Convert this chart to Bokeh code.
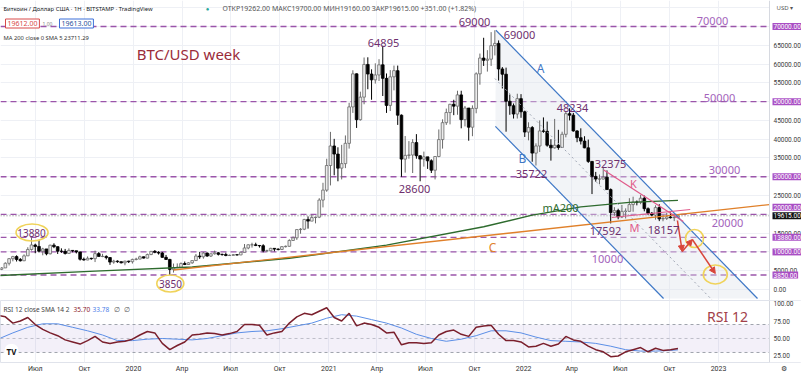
import pandas as pd
from bokeh.plotting import figure
from bokeh.layouts import column
from bokeh.models import (Range1d, FixedTicker, Label, Span, Arrow, NormalHead,
                          BoxAnnotation, ColumnDataSource)
from bokeh.embed import file_html
from bokeh.resources import INLINE

# ---------------- data ----------------
week_start = "2019-04-22"
first_open = 5270
close = [5380, 5750, 6980, 8200, 8750, 8000, 7650, 8950, 10650, 11850,
         11450, 10200, 10800, 9500, 11800, 11400, 10200, 10150, 9600, 10400,
         10300, 10000, 8050, 7850, 8300, 8200, 9550, 8800, 8800, 8500,
         7300, 7550, 7400, 7100, 7550, 7400, 8000, 8100, 8700, 8350,
         9300, 10150, 9900, 9700, 8550, 8000, 5350, 5800, 5900, 6900,
         6650, 7100, 7700, 8900, 8700, 9700, 8900, 9500, 9750, 9350,
         9300, 9050, 9100, 9250, 9200, 9900, 11050, 11900, 11900, 11700,
         11650, 10300, 10300, 10950, 10750, 10650, 11400, 11500, 13050, 13750,
         15950, 16050, 18650, 18200, 19150, 19250, 23800, 26450, 33000, 38200,
         36050, 32300, 33500, 38900, 48600, 57400, 45200, 51200, 59900, 57350,
         55800, 57100, 59800, 56200, 49000, 56600, 58250, 46400, 34700, 35700,
         35800, 39100, 35600, 34700, 35300, 34250, 31750, 35400, 39900, 44400,
         47100, 49300, 48800, 51800, 45200, 48300, 43200, 48200, 57400, 61600,
         61000, 61300, 64900, 65500, 58700, 57300, 50100, 48900, 46700, 50800,
         47300, 41900, 43100, 36300, 38200, 42200, 42100, 38400, 37700, 38400,
         37800, 41300, 46800, 46400, 42200, 40400, 39500, 37700, 34100, 30100,
         29400, 29400, 29900, 26600, 20500, 21000, 19300, 20800, 20800, 22600,
         23300, 23200, 24300, 21500, 20300, 19800, 21800, 18800, 18900, 19300,
         19100, 19200, 19615]
high = [5620, 5900, 7230, 8350, 8950, 9100, 8350, 9350, 11250, 13880,
        12200, 13200, 11100, 10600, 11900, 12300, 11450, 10950, 10800, 10950,
        10450, 10300, 10050, 8500, 8800, 8450, 10350, 9950, 9500, 9100,
        8600, 7900, 7750, 7450, 7650, 7650, 8200, 8450, 9000, 8750,
        9550, 10200, 10500, 10200, 10000, 9200, 8150, 6900, 6950, 7200,
        7450, 7300, 7750, 9450, 10000, 9950, 9850, 9600, 10350, 9950,
        9550, 9800, 9300, 9450, 9300, 10050, 12100, 12000, 12450, 12450,
        11850, 12050, 10600, 11100, 10950, 10950, 11500, 11700, 13350, 14100,
        15980, 16350, 18800, 19450, 19900, 19400, 24300, 28400, 34800, 41950,
        40100, 37850, 38500, 41000, 49700, 58350, 57500, 52650, 61750, 61800,
        58600, 60200, 61300, 64895, 57500, 58400, 59600, 59600, 46600, 40850,
        39500, 40000, 41350, 35700, 36700, 35100, 34650, 35500, 42600, 45300,
        48150, 49400, 50500, 52900, 52900, 48850, 48300, 49000, 57800, 62800,
        67000, 63700, 68500, 69000, 66300, 59200, 59050, 51900, 49500, 52100,
        52000, 47600, 44500, 43500, 38900, 45000, 45800, 44700, 40000, 45400,
        42500, 42000, 47500, 48234, 47000, 42400, 42900, 40800, 39900, 34200,
        31300, 30600, 32375, 31700, 26900, 21900, 21500, 22500, 21600, 24300,
        24700, 23700, 25200, 25000, 21850, 20600, 22400, 22700, 19900, 20400,
        20500, 19900, 19700]
low = [5070, 5160, 5700, 6400, 7500, 7450, 7450, 7550, 8950, 10350,
       9650, 9850, 9100, 9100, 9350, 11000, 9450, 9750, 9300, 9600,
       9900, 9600, 7700, 7700, 7800, 7900, 7300, 8750, 8600, 8000,
       6550, 6850, 7100, 6950, 6450, 7050, 6900, 7750, 8050, 8250,
       8300, 9150, 9650, 9300, 8450, 7850, 3850, 4500, 5700, 5900,
       6500, 6600, 6850, 7650, 8150, 8200, 8700, 8650, 9300, 9050,
       9000, 8850, 8950, 9050, 9050, 9150, 9900, 10700, 11150, 11550,
       11150, 9900, 9900, 10200, 10150, 10400, 10500, 11200, 11400, 12900,
       13200, 14850, 15800, 16200, 18200, 17600, 19000, 21850, 26000, 27700,
       30400, 28800, 29300, 32300, 37500, 47000, 43000, 44950, 49300, 53300,
       50500, 54800, 55500, 51500, 47000, 47500, 53000, 43800, 30000, 31100,
       34800, 31000, 34800, 28800, 32700, 32100, 31000, 29300, 35200, 37500,
       43800, 43950, 46400, 46500, 42900, 43400, 39600, 40800, 46900, 54500,
       59500, 58000, 59500, 62300, 55600, 53500, 42000, 46500, 45500, 45500,
       45700, 40600, 39700, 34000, 33000, 36600, 41700, 38000, 34300, 37500,
       37200, 37700, 40500, 45000, 42000, 39200, 38600, 37600, 33700, 25400,
       28700, 28000, 29300, 26500, 17592, 19600, 18700, 19000, 18900, 20800,
       20700, 22400, 22700, 20800, 19800, 19500, 18600, 18200, 18157, 18500,
       18900, 18200, 19060]

levels = [70000, 50000, 30000, 20000, 13880, 10000, 3850]
level_box_text = ["70000.00", "50000.00", "30000.00", "20000.00", "13880.00", "10000.00", "3850.00"]
last_price = 19615
price_ticks = [0, 5000, 15000, 25000, 35000, 40000, 45000, 55000, 60000, 65000]
rsi_ticks = [25, 50, 75, 100]

ma200_dates = ["2019-04-22", "2019-10-21", "2020-04-20", "2020-10-19", "2021-04-19",
               "2021-10-18", "2022-01-17", "2022-04-18", "2022-07-18", "2022-10-17"]
ma200_vals = [3700, 4900, 6000, 8300, 11800, 16700, 19800, 22000, 23200, 23711]

# trend lines (date, price)
line_a = (["2021-11-10", "2023-03-15"], [69000, -2400])
line_b = (["2021-11-09", "2022-09-20"], [43400, -2400])
line_mid = (["2021-11-08", "2022-12-21"], [56160, -2930])
line_c = (["2020-03-16", "2023-04-06"], [5200, 22600])
line_k = (["2022-05-31", "2022-10-27"], [31800, 18100])
line_m = (["2022-06-15", "2022-11-09"], [19165, 21290])
forecast_dates = ["2022-10-16", "2022-10-25", "2022-11-13", "2022-12-26"]
forecast_prices = [18365, 10115, 13310, 4260]

rsi_vals = [83, 81, 72, 75, 80, 70, 63, 58, 54, 48,
            45, 42, 47, 53, 45, 43, 45, 46, 49, 55,
            60, 58, 43, 34, 40, 45, 55, 56, 58, 57,
            55, 57, 60, 70, 70, 69, 55, 58, 60, 72,
            81, 86, 84, 89, 94, 80, 75, 86, 68, 72,
            70, 66, 58, 59, 41, 44, 44, 43, 44, 55,
            60, 62, 56, 53, 66, 68, 69, 56, 47, 47,
            45, 38, 39, 43, 39, 42, 53, 48, 46, 39,
            34, 31, 24, 25, 31, 34, 37, 31, 36, 33,
            34, 35.7]
sma_vals = [49, 58, 66, 71, 71, 66, 61, 55, 47, 47,
            49, 50, 49, 48, 50, 54, 58, 60, 61, 64,
            68, 72, 79, 84, 82, 77, 72, 65, 56, 50,
            46, 49, 54, 61, 61, 58, 52, 47, 46, 45,
            43, 39, 34, 32, 32, 33, 33.78]

tick_dates = ["2019-07-01", "2019-10-01", "2020-01-01", "2020-04-01", "2020-07-01",
              "2020-10-01", "2021-01-01", "2021-04-01", "2021-07-01", "2021-10-01",
              "2022-01-01", "2022-04-01", "2022-07-01", "2022-10-01", "2023-01-01"]
tick_labels = ["Июл", "Окт", "2020", "Апр", "Июл", "Окт", "2021", "Апр", "Июл", "Окт",
               "2022", "Апр", "Июл", "Окт", "2023"]


def ms(d):
    return pd.Timestamp(d).value / 1e6


# ---------------- derived ----------------
dates = [ms(d) for d in pd.date_range(week_start, periods=len(close), freq="7D")]
opens = [first_open] + close[:-1]
up = [c >= o for o, c in zip(opens, close)]
src = ColumnDataSource(dict(
    x=dates, o=opens, c=close, h=high, l=low,
    top=[max(o, c) for o, c in zip(opens, close)],
    bot=[min(o, c) for o, c in zip(opens, close)],
    fill=["#ececec" if u else "#000000" for u in up],
    edge=["#6a6a6a" if u else "#000000" for u in up],
))
rsi_dates = [ms(d) for d in pd.date_range(week_start, periods=len(rsi_vals), freq="14D")]
sma_dates = [ms(d) for d in pd.date_range(week_start, periods=len(sma_vals) - 1, freq="28D")] + [ms("2022-10-17")]
tick_ms = [ms(d) for d in tick_dates]

PURPLE_LINE = "#9b55aa"
PURPLE_BOX = "#a94ec4"
DARK_TXT = "#6e2f6e"
LIGHT_TXT = "#a463bb"
FONT = "Noto Sans"
AXIS_FONT = "Roboto"

# plot area spans the whole width; the price column is drawn to the right of EDGE
x_lo = ms("2019-04-26 21:00")
EDGE = ms("2023-04-06 12:00")          # right edge of the chart area (pixel 769)
ms_per_px = (EDGE - x_lo) / 769
x_hi = x_lo + 801 * ms_per_px
gear_ms = x_lo + 783 * ms_per_px
MAIN_H = 300

p = figure(frame_width=801, frame_height=MAIN_H, x_range=Range1d(x_lo, x_hi),
           y_range=Range1d(-2930, 76920), x_axis_type="datetime", x_axis_location=None,
           y_axis_location=None, output_backend="svg", toolbar_location=None,
           min_border=0, background_fill_color="white", border_fill_color="white")
p.outline_line_color = None
p.xgrid.ticker = FixedTicker(ticks=tick_ms)
p.xgrid.grid_line_color = "#eef0f5"
p.ygrid.ticker = FixedTicker(ticks=list(range(0, 75001, 5000)))
p.ygrid.grid_line_color = "#eef0f5"

# channel fill
p.patch([ms(line_a[0][0]), ms(line_a[0][1]), ms(line_b[0][1]), ms(line_b[0][0])],
        [line_a[1][0], line_a[1][1], line_b[1][1], line_b[1][0]],
        fill_color="#dfe3ec", fill_alpha=0.4, line_color=None)

# level lines
for lv in levels:
    p.add_layout(Span(location=lv, dimension="width", line_color=PURPLE_LINE,
                      line_dash="6 4", line_width=1.4, level="underlay"))
p.add_layout(Span(location=last_price, dimension="width", line_color="#777777",
                  line_dash="1 2", line_width=1, level="underlay"))

# candles
p.segment("x", "h", "x", "l", source=src, line_color="edge", line_width=1)
p.vbar(x="x", width=7 * 86400000 * 0.72, top="top", bottom="bot", source=src,
       fill_color="fill", line_color="edge", line_width=0.8)

# MA200, C line
p.line([ms(d) for d in ma200_dates], ma200_vals, line_color="#2e6b2e", line_width=1.4)
p.line([ms(d) for d in line_c[0]], line_c[1], line_color="#e0802a", line_width=1.4)
# channel lines
for ln in (line_a, line_b):
    p.line([ms(d) for d in ln[0]], ln[1], line_color="#3f78c6", line_width=1.2)
p.line([ms(d) for d in line_mid[0]], line_mid[1], line_color="#a0a6b4",
       line_width=1, line_dash="2 3")
for ln in (line_k, line_m):
    p.line([ms(d) for d in ln[0]], ln[1], line_color="#e05a8a", line_width=1.2)

# forecast arrows
fx = [ms(d) for d in forecast_dates]
for i in range(len(fx) - 1):
    p.add_layout(Arrow(x_start=fx[i], y_start=forecast_prices[i], x_end=fx[i + 1],
                       y_end=forecast_prices[i + 1], line_color="#d9453a", line_width=1.5,
                       end=NormalHead(size=6, fill_color="#d9453a", line_color="#d9453a")))

# yellow ellipses
p.ellipse(x=[ms("2019-06-25"), ms("2020-03-10"), ms("2022-11-17"), ms("2022-12-26")],
          y=[15170, 1600, 13575, 3990], width=[32, 27, 18, 24], height=[17, 17, 18, 19],
          width_units="screen", height_units="screen", fill_color=None,
          line_color="#f0d35a", line_width=1.6)


def lab(fig, text, x, y, size, color, H=MAIN_H, align="center", font=FONT, style="normal", **kw):
    fig.add_layout(Label(x=x, y=H - y, x_units="screen", y_units="screen", text=text,
                         text_font_size=f"{size}px", text_color=color, text_align=align,
                         text_baseline="middle", text_font=font, text_font_style=style, **kw))


# chart annotations
for t, x, y in [("69000", 474, 21), ("69000", 519, 34), ("64895", 383, 42), ("28600", 414, 188),
                ("35722", 531, 173), ("48234", 572, 107), ("32375", 610, 163),
                ("17592", 605, 230), ("18157", 663, 229)]:
    lab(p, t, x, y, 11, DARK_TXT)
lab(p, "13880", 31, 232, 10, DARK_TXT)
lab(p, "3850", 170, 283, 10, DARK_TXT)
for t, x, y in [("70000", 712, 20), ("50000", 719, 97), ("30000", 724, 169),
                ("20000", 727, 222), ("10000", 607, 258)]:
    lab(p, t, x, y, 11, LIGHT_TXT)
lab(p, "K", 633, 183, 11, "#e05a8a")
lab(p, "M", 634, 227, 11, "#e05a8a")
lab(p, "mA200", 560, 207, 11, "#2e6b2e")
lab(p, "C", 492, 247, 12, "#e0802a")
lab(p, "A", 540, 68, 12, "#3f78c6")
lab(p, "B", 522, 158, 12, "#3f78c6")
lab(p, "BTC/USD week", 188, 53, 15, "#9b2c3a")

# header
lab(p, "Биткоин / Доллар США · 1H · BITSTAMP · TradingView", 3, 8, 5.9, "#131722", align="left")
lab(p, "●", 207, 8, 6, "#26a69a")
lab(p, "ОТКР19262.00  МАКС19700.00  МИН19160.00  ЗАКР19615.00  +351.00 (+1.82%)", 222, 8, 7,
    "#555555", align="left")
lab(p, "19612.00", 5, 23, 7, "#d84a4a", align="left", background_fill_color="white",
    border_line_color="#d84a4a", padding=2)
lab(p, "1.00", 42, 23, 5, "#888888", align="left")
lab(p, "19613.00", 59, 23, 7, "#2a4f9a", align="left", background_fill_color="white",
    border_line_color="#3a6fd8", padding=2)
lab(p, "MA 200 close 0 SMA 5  23711.29", 3, 37, 5.8, "#333333", align="left")

# ---- price column (right of EDGE) ----
p.add_layout(BoxAnnotation(left=EDGE, fill_color="white", fill_alpha=1, line_alpha=0))
p.add_layout(Span(location=EDGE, dimension="height", line_color="#d6d9e0", line_width=1))
lab(p, "USD ▾", 776, 7, 6, "#555555", align="left")
for v in price_ticks:
    p.add_layout(Label(x=773, y=v, x_units="screen", y_units="data", text=f"{v}.00",
                       text_font_size="6.5px", text_color="#3b3b3b", text_align="left",
                       text_baseline="middle", text_font=AXIS_FONT))
for lv, t in zip(levels, level_box_text):
    p.add_layout(Label(x=772, y=lv, x_units="screen", y_units="data", text=t,
                       y_offset=(7 if lv == 20000 else 0),
                       text_font_size="6.5px", text_color="white", text_align="left",
                       text_baseline="middle", text_font=AXIS_FONT,
                       background_fill_color=PURPLE_BOX, padding=1))
p.add_layout(Label(x=772, y=last_price, x_units="screen", y_units="data", text="19615.00",
                   text_font_size="6.5px", text_color="white", text_align="left",
                   text_baseline="middle", text_font=AXIS_FONT,
                   background_fill_color="#111111", padding=1))

# ---------------- RSI pane ----------------
RSI_H = 62
r = figure(frame_width=801, frame_height=RSI_H, x_range=p.x_range, y_range=Range1d(15.7, 104.3),
           x_axis_type="datetime", y_axis_location=None, output_backend="svg",
           toolbar_location=None, min_border=0, background_fill_color="white",
           border_fill_color="white")
r.outline_line_color = "#e0e3eb"
r.ygrid.grid_line_color = None
r.xgrid.grid_line_color = "#eef0f5"
r.add_layout(BoxAnnotation(bottom=30, top=70, right=EDGE, fill_color="#7e57c2", fill_alpha=0.09,
                           line_alpha=0, level="underlay"))
for lv, a in [(70, 0.8), (50, 0.5), (30, 0.8)]:
    r.add_layout(Span(location=lv, dimension="width", line_color="#8a8e99", line_alpha=a,
                      line_dash="3 3", line_width=1, level="underlay"))
r.line(sma_dates, sma_vals, line_color="#5b8ee6", line_width=1)
r.line(rsi_dates, rsi_vals, line_color="#7a1f2c", line_width=1.5)

rx = r.xaxis[0]
rx.ticker = FixedTicker(ticks=tick_ms + [gear_ms])
overrides = {t: l for t, l in zip(tick_ms, tick_labels)}
overrides[gear_ms] = "⚙"
rx.major_label_overrides = overrides
rx.major_label_text_font_size = "7px"
rx.major_label_text_font = AXIS_FONT
rx.major_label_text_color = "#333333"
rx.major_tick_line_color = None
rx.minor_tick_line_color = None
rx.major_tick_out = 0
rx.major_tick_in = 0
rx.axis_line_color = None
rx.major_label_standoff = 2

r.add_layout(BoxAnnotation(left=EDGE, fill_color="white", fill_alpha=1, line_alpha=0))
r.add_layout(Span(location=EDGE, dimension="height", line_color="#d6d9e0", line_width=1))
for v in rsi_ticks:
    r.add_layout(Label(x=773, y=v, x_units="screen", y_units="data", text=f"{v}.00",
                       text_font_size="6.5px", text_color="#3b3b3b", text_align="left",
                       text_baseline="middle", text_font=AXIS_FONT))

lab(r, "RSI 12 close SMA 14 2", 3, 9, 6.5, "#444444", H=RSI_H, align="left")
lab(r, "35.70", 73, 9, 6.5, "#8b1a2b", H=RSI_H, align="left")
lab(r, "33.78", 92, 9, 6.5, "#4a7ce8", H=RSI_H, align="left")
lab(r, "∅", 113, 9, 6.5, "#555555", H=RSI_H, align="left")
lab(r, "∅", 123, 9, 6.5, "#555555", H=RSI_H, align="left")
lab(r, "RSI 12", 727, 16, 14, "#a2404a", H=RSI_H)
lab(r, "TV", 11, 51, 8, "#111111", H=RSI_H, style="bold", background_fill_color="white",
    border_radius=6, padding=2)

layout = column(p, r, spacing=0)
open("out.html", "w").write(file_html(layout, INLINE))
